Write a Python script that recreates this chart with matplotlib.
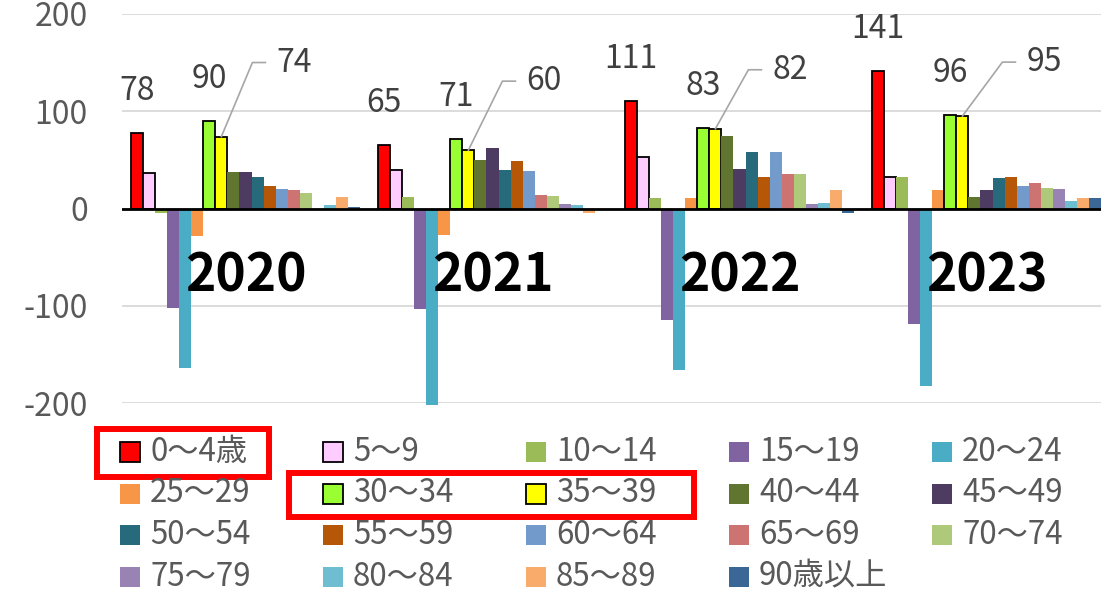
import numpy as np
import matplotlib
matplotlib.use("Agg")
import matplotlib.pyplot as plt
from matplotlib.patches import Rectangle

plt.rcParams["font.family"] = ["Noto Sans CJK JP", "DejaVu Sans"]
plt.rcParams["axes.unicode_minus"] = False

years = ["2020", "2021", "2022", "2023"]
ages = ["0～4歳", "5～9", "10～14", "15～19", "20～24", "25～29", "30～34",
        "35～39", "40～44", "45～49", "50～54", "55～59", "60～64", "65～69",
        "70～74", "75～79", "80～84", "85～89", "90歳以上"]

# net change per age group, one list per year (order follows `ages`)
v2020 = [78, 37, -5, -102, -164, -28, 90, 74, 38, 38, 32, 23, 20, 19, 16, 0, 4, 12, 2]
v2021 = [65, 40, 12, -103, -202, -27, 71, 60, 50, 62, 40, 49, 39, 14, 13, 5, 4, -5, 0]
v2022 = [111, 53, 11, -115, -166, 11, 83, 82, 75, 41, 58, 32, 58, 35, 35, 5, 6, 19, -5]
v2023 = [141, 32, 32, -119, -183, 19, 96, 95, 12, 19, 31, 32, 23, 26, 21, 20, 8, 11, 11]
values = np.array([v2020, v2021, v2022, v2023])

colors = ["#FF0000", "#FFCCFF", "#9BBB59", "#8064A2", "#4BACC6", "#F79646",
          "#99FF33", "#FFFF00", "#5F7530", "#4D3B62", "#276A7C", "#B65708",
          "#729ACA", "#CD7371", "#AFC97A", "#9983B5", "#6FBDD1", "#F9AB6B",
          "#3A6795"]
outlined = {0, 1, 6, 7}

# leader line offsets (pixels) for the 35～39 labels
leader = [(31, 74), (34, 69), (33, 59), (40, 54)]

W, H = 1101, 598
fig = plt.figure(figsize=(W / 100, H / 100), dpi=100)
ax = fig.add_axes([122 / W, 1 - 403 / H, (W - 122) / W, (403 - 14) / H])

n = len(ages)
bw = 12.05 / 247
x = np.arange(len(years))
for j in range(n):
    xs = x + (j - (n - 1) / 2) * bw
    if j in outlined:
        ax.bar(xs, values[:, j], bw, color=colors[j], edgecolor="black",
               linewidth=1.3, zorder=2, clip_on=False)
    else:
        ax.bar(xs, values[:, j], bw, color=colors[j], edgecolor="none",
               zorder=2, clip_on=False)

ax.set_xlim(-0.5, (W - 122) / 247 - 0.5)
ax.set_ylim(-200, 200)
ax.set_yticks([-200, -100, 0, 100, 200])
ax.set_xticks([])
ax.tick_params(axis="y", length=0, pad=24.5, labelsize=23, labelcolor="#595959")
for s in ax.spines.values():
    s.set_visible(False)
ax.grid(axis="y", color="#D9D9D9", linewidth=1.3, zorder=0)
ax.set_axisbelow(True)
ax.axhline(0, color="black", linewidth=2.0, zorder=3)

lab_col = "#404040"
for i in range(len(years)):
    for j in (0, 6):
        xs = x[i] + (j - (n - 1) / 2) * bw
        ax.annotate(str(values[i, j]), (xs, values[i, j]), xytext=(0, 42),
                    textcoords="offset pixels", ha="center", va="center",
                    fontsize=23, color=lab_col)
    j = 7
    xs = x[i] + (j - (n - 1) / 2) * bw
    p0 = ax.transData.transform((xs, values[i, j]))
    dx, dy = leader[i]
    p1 = p0 + np.array([dx, dy])
    p2 = p1 + np.array([13, 0])
    inv = ax.transData.inverted()
    pts = inv.transform(np.array([p0, p1, p2]))
    ax.plot(pts[:, 0], pts[:, 1], color="#A6A6A6", linewidth=1.2, zorder=4,
            clip_on=False)
    ax.annotate(str(values[i, j]), tuple(pts[2]), xytext=(11, 0),
                textcoords="offset pixels", ha="left", va="center",
                fontsize=23, color=lab_col)
    ax.text(x[i], -69, years[i], ha="center", va="center", fontsize=37,
            fontweight="bold", color="black", zorder=5)

# legend, row by row
row0, row_step = 452, 41.5
for k, name in enumerate(ages):
    r, c = divmod(k, 5)
    left = 120 + c * 203
    cy = row0 + r * row_step
    ec = "black" if k in outlined else "none"
    fig.patches.append(Rectangle((left / W, 1 - (cy + 10) / H), 20 / W, 20 / H,
                                 transform=fig.transFigure, facecolor=colors[k],
                                 edgecolor=ec, linewidth=1.3))
    fig.text((left + 30) / W, 1 - cy / H, name, ha="left", va="center",
             fontsize=22.5, color="#595959")

# red highlight boxes
r2 = row0 + row_step
for (x0, y0, x1, y1) in [(97, row0 - 23, 269, row0 + 25),
                         (289, r2 - 21, 694, r2 + 23)]:
    fig.patches.append(Rectangle((x0 / W, 1 - y1 / H), (x1 - x0) / W, (y1 - y0) / H,
                                 transform=fig.transFigure, facecolor="none",
                                 edgecolor="#FF0000", linewidth=4.3))

fig.savefig("out.png", dpi=100)
